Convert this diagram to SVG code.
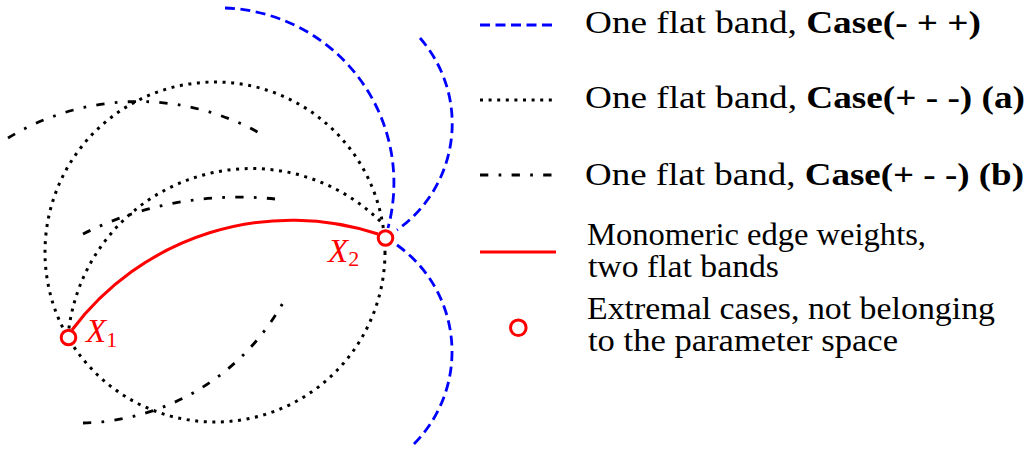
<svg xmlns="http://www.w3.org/2000/svg" width="1034" height="450" viewBox="0 0 1034 450">
  <style>
    .blue { fill: none; stroke: #0000ff; stroke-width: 2.8; stroke-dasharray: 10 5.5; }
    .dot { fill: none; stroke: #000; stroke-width: 3; stroke-dasharray: 3 5.6; }
    .dd { fill: none; stroke: #000; stroke-width: 2.8; stroke-dasharray: 8.3 10.3 2.7 10.3; }
    .red { fill: none; stroke: #ff0000; stroke-width: 3; }
    .mark { fill: #fff; stroke: #ff0000; stroke-width: 3; }
    .lbl { font-family: "Liberation Serif", "Times New Roman", serif; font-size: 31px; fill: #000; }
    .b { font-weight: bold; }
    .xl { font-family: "Liberation Serif", "Times New Roman", serif; font-size: 33px; font-style: italic; fill: #ff0000; }
    .sub { font-style: normal; font-size: 22px; }
  </style>
  <rect width="1034" height="450" fill="#fff"/>
  <g id="connectors">
    <circle class="dot" cx="215" cy="252" r="170"/>
    <path class="dot" d="M 68 337 A 184 184 0 0 1 382 223"/>
    <path class="dd" d="M 8 138 A 250 250 0 0 1 263 135"/>
    <path class="dd" d="M 83 234 A 347 347 0 0 1 275 199"/>
    <path class="dd" d="M 83 423 A 235 235 0 0 0 285 299"/>
    <path class="blue" d="M 225 8 A 175 175 0 0 1 388 228"/>
    <path class="blue" d="M 420 38 A 130 130 0 0 1 397 230"/>
    <path class="blue" d="M 397 245 A 131 131 0 0 1 413 445"/>
    <path class="red" d="M 72 330 A 275 275 0 0 1 378 234"/>
  </g>
  <g id="X1">
    <circle class="mark" cx="68.5" cy="337.5" r="7.3"/>
    <text class="xl" x="86" y="342">X<tspan class="sub" dy="5">1</tspan></text>
  </g>
  <g id="X2">
    <circle class="mark" cx="385.5" cy="238" r="7.3"/>
    <text class="xl" x="328" y="262">X<tspan class="sub" dy="4">2</tspan></text>
  </g>
  <g id="legend">
    <g id="leg-blue">
      <line class="blue" x1="480" y1="25" x2="552" y2="25"/>
      <text class="lbl" x="585" y="33" textLength="396" lengthAdjust="spacingAndGlyphs">One flat band, <tspan class="b">Case(- + +)</tspan></text>
    </g>
    <g id="leg-dot">
      <line class="dot" x1="480" y1="100" x2="552" y2="100"/>
      <text class="lbl" x="585" y="108" textLength="440" lengthAdjust="spacingAndGlyphs">One flat band, <tspan class="b">Case(+ - -) (a)</tspan></text>
    </g>
    <g id="leg-dd">
      <line class="dd" x1="480" y1="175" x2="552" y2="175"/>
      <text class="lbl" x="585" y="185" textLength="439" lengthAdjust="spacingAndGlyphs">One flat band, <tspan class="b">Case(+ - -) (b)</tspan></text>
    </g>
    <g id="leg-red">
      <line class="red" x1="480" y1="252" x2="556" y2="252"/>
      <text class="lbl" x="587" y="245" textLength="339" lengthAdjust="spacingAndGlyphs">Monomeric edge weights,</text>
      <text class="lbl" x="588" y="277" textLength="191" lengthAdjust="spacingAndGlyphs">two flat bands</text>
    </g>
    <g id="leg-mark">
      <circle class="mark" cx="518.3" cy="327.7" r="7.8"/>
      <text class="lbl" x="587" y="319" textLength="408" lengthAdjust="spacingAndGlyphs">Extremal cases, not belonging</text>
      <text class="lbl" x="588" y="351" textLength="310" lengthAdjust="spacingAndGlyphs">to the parameter space</text>
    </g>
  </g>
</svg>
